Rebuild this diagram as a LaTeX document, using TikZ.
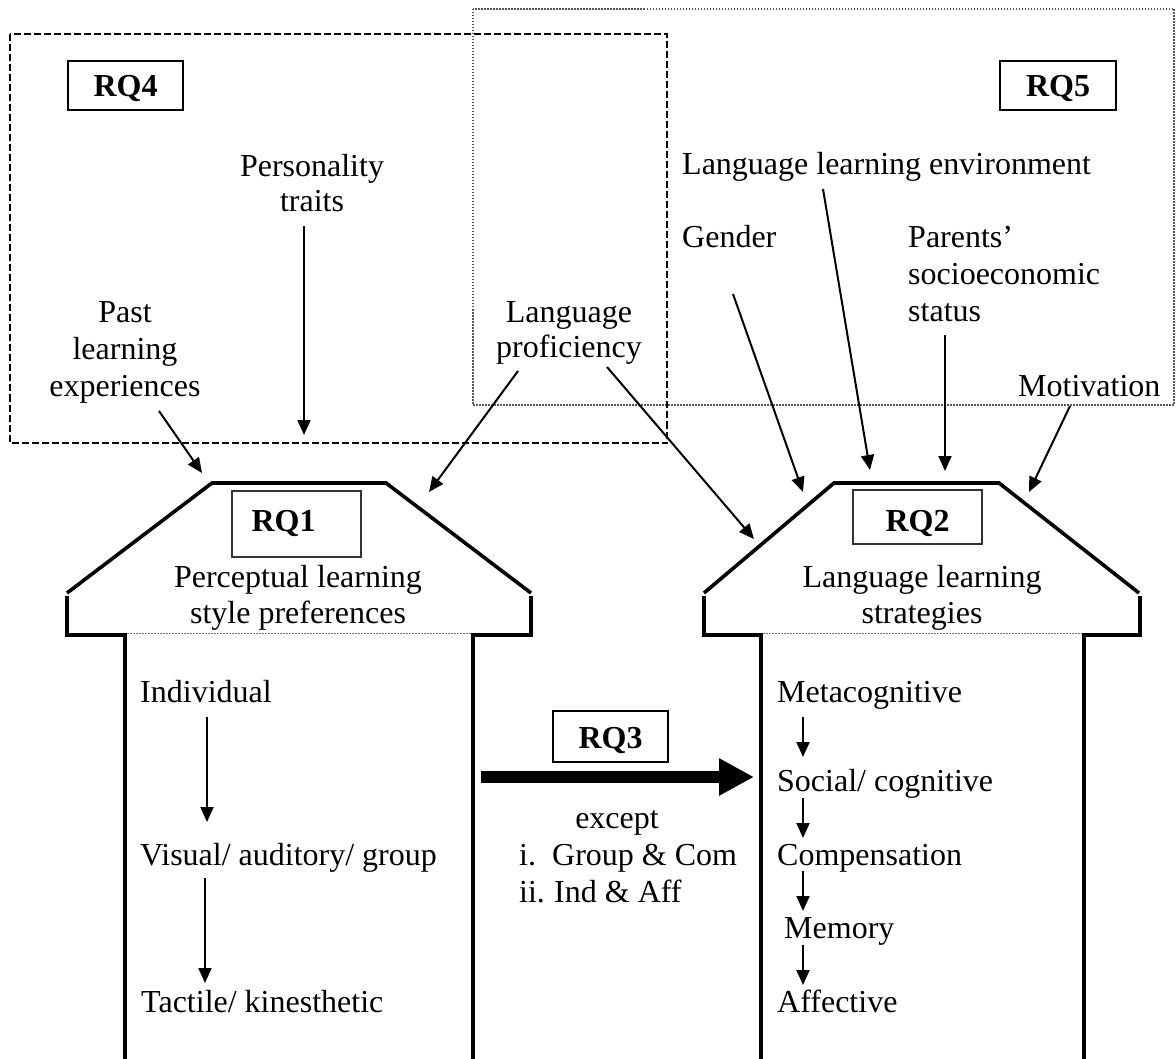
\documentclass[tikz,border=0pt]{standalone}
\usepackage{fontspec}
\setmainfont{Liberation Serif}
\usetikzlibrary{arrows.meta}

\begin{document}
\begin{tikzpicture}[
    x=1pt, y=-1pt,
    txt/.style={inner sep=0pt, font=\fontsize{32}{37}\selectfont},
    % multi-line labels are placed by the baseline of their last line
    lblc/.style={txt, anchor=base, align=center},
    lbll/.style={txt, anchor=base west, align=left},
    rqbox/.style={draw, line width=2.6pt, inner sep=0pt,
                  minimum width=115pt, minimum height=49pt,
                  text height=23pt, text depth=0pt,
                  font=\fontsize{32}{37}\selectfont\bfseries},
    rqsub/.style={draw=black!80, line width=1.8pt, inner sep=0pt,
                  minimum width=129pt,
                  font=\fontsize{32}{37}\selectfont\bfseries},
    arr/.style={line width=2pt, -{Triangle[length=15pt,width=13pt]}},
    bigarr/.style={line width=12pt, -{Triangle[length=35pt,width=35pt]}},
    wall/.style={line width=3.6pt, line cap=butt, line join=miter},
    divider/.style={line width=1pt, black!55, dash pattern=on 2pt off 1pt},
    grpfour/.style={line width=2pt, dash pattern=on 7pt off 3pt},
    grpfive/.style={line width=1.3pt, black!65, dash pattern=on 1.5pt off 1.5pt},
  ]
\useasboundingbox (0,0) rectangle (1176,1059);

% ---------- grouping frames ----------
\draw[grpfive] (473,9) rectangle (1174,405);
\draw[grpfour] (10,34.5) rectangle (667,443);

\node[rqbox] (rq4) at (125.5,85.5) {RQ4};
\node[rqbox, minimum width=116pt] (rq5) at (1058,85.5) {RQ5};

% ---------- influencing factors ----------
\node[lblc, font=\fontsize{32}{35}\selectfont] (pers) at (312,212) {Personality\\traits};
\node[lblc] (past)  at (125,397) {Past\\learning\\experiences};
\node[lblc, font=\fontsize{32}{35}\selectfont] (prof) at (569,358) {Language\\proficiency};
\node[lbll] (env)   at (682,175) {Language learning environment};
\node[lbll] (gend)  at (682,248) {Gender};
\node[lbll] (par)   at (908,322) {Parents’\\socioeconomic\\status};
\node[lbll] (motiv) at (1018,396) {Motivation};

% ---------- left house: learning styles ----------
\draw[wall] (67,593) -- (212,483) -- (386,483) -- (531,593);
\draw[wall] (67,596) -- (67,635) -- (125,635) -- (125,1059);
\draw[wall] (473,1059) -- (473,635) -- (531,635) -- (531,596);
\draw[divider] (127,633) -- (471,633);

\node[rqsub, minimum height=66pt, text height=22pt, text depth=8pt]
  (rq1) at (296.5,524) {RQ1\hspace*{26pt}};
\node[lblc, font=\fontsize{32}{36}\selectfont] (pls) at (298,623)
  {Perceptual learning\\style preferences};

\node[lbll] (ind) at (140,702)  {Individual};
\node[lbll] (vag) at (140,865)  {Visual/ auditory/ group};
\node[lbll] (tk)  at (141,1012) {Tactile/ kinesthetic};

% ---------- right house: learning strategies ----------
\draw[wall] (704,593) -- (834,483) -- (999,483) -- (1139,593);
\draw[wall] (704,596) -- (704,635) -- (761,635) -- (761,1059);
\draw[wall] (1084,1059) -- (1084,635) -- (1140,635) -- (1140,596);
\draw[divider] (763,633) -- (1082,633);

\node[rqsub, minimum height=54pt, text height=28pt, text depth=0pt]
  (rq2) at (917.5,517) {RQ2};
\node[lblc, font=\fontsize{32}{36}\selectfont] (lls) at (922,623)
  {Language learning\\strategies};

\node[lbll] (meta)  at (777,702)  {Metacognitive};
\node[lbll] (soc)   at (777,791)  {Social/ cognitive};
\node[lbll] (comp)  at (777,865)  {Compensation};
\node[lbll] (mem)   at (784,938)  {Memory};
\node[lbll] (aff)   at (777,1012) {Affective};

% ---------- relationship between the two ----------
\node[rqbox, minimum height=51pt] (rq3) at (610.5,736.5) {RQ3};
\node[lblc] (exc) at (617,828) {except};
\node[lbll] (excl) at (519,902)
  {\makebox[33pt][l]{i.}Group \& Com\\\makebox[35pt][l]{ii.}Ind \& Aff};

% ---------- connector end points ----------
\coordinate (pastS)  at (159,411);  \coordinate (pastT)  at (202,473);
\coordinate (persS)  at (304,226);  \coordinate (persT)  at (304,435);
\coordinate (profLS) at (518,371);  \coordinate (profLT) at (429,492);
\coordinate (profRS) at (607,367);  \coordinate (profRT) at (754,539);
\coordinate (gendS)  at (733,294);  \coordinate (gendT)  at (803,492);
\coordinate (envS)   at (823,189);  \coordinate (envT)   at (870,470);
\coordinate (parS)   at (945,335);  \coordinate (parT)   at (945,471);
\coordinate (motS)   at (1070,406); \coordinate (motT)   at (1029,492);
\coordinate (rq3S)   at (481,777);  \coordinate (rq3T)   at (754,777);

% ---------- connectors ----------
\draw[arr] (pastS) -- (pastT);
\draw[arr] (persS) -- (persT);
\draw[arr] (profLS) -- (profLT);
\draw[arr] (profRS) -- (profRT);
\draw[arr] (gendS) -- (gendT);
\draw[arr] (envS) -- (envT);
\draw[arr] (parS) -- (parT);
\draw[arr] (motS) -- (motT);

\draw[arr] (207,717) -- (207,822);
\draw[arr] (205,878) -- (205,983);

\draw[arr] (803,717) -- (803,757);
\draw[arr] (803,798) -- (803,838);
\draw[arr] (803,871) -- (803,911);
\draw[arr] (803,945) -- (803,985);

\draw[bigarr] (rq3S) -- (rq3T);
\end{tikzpicture}
\end{document}
